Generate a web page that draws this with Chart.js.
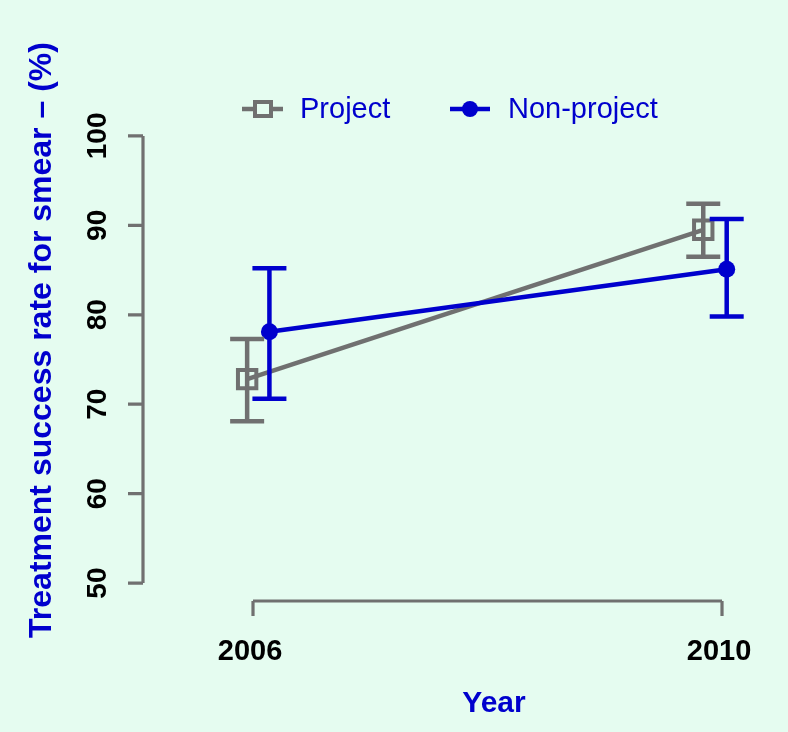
<!DOCTYPE html>
<html>
<head>
<meta charset="utf-8">
<script src="https://cdn.jsdelivr.net/npm/chart.js@4.4.1/dist/chart.umd.min.js"></script>
<style>
  html, body { margin: 0; padding: 0; background: #e5fcf0; }
  #wrap { width: 788px; height: 732px; position: relative; }
</style>
</head>
<body>
<div id="wrap"><canvas id="chart"></canvas></div>
<script>
// data
const years = [2006, 2010];
const yTicks = [50, 60, 70, 80, 90, 100];

// points are drawn slightly dodged around each year
const projectX = [2005.95, 2009.84];
const projectY = [72.8, 89.5];
const projectLo = [68.1, 86.5];
const projectHi = [77.3, 92.4];

const nonProjectX = [2006.14, 2010.04];
const nonProjectY = [78.1, 85.1];
const nonProjectLo = [70.6, 79.8];
const nonProjectHi = [85.2, 90.7];

const GRAY = '#707070';
const BLUE = '#0000cd';
const BG = '#e5fcf0';

const toPoints = (xs, ys) => xs.map((x, i) => ({ x: x, y: ys[i] }));

// error bars, axes (R style, detached) and legend
const rStyle = {
  id: 'rStyle',
  afterDatasetsDraw(chart) {
    const ctx = chart.ctx;
    const xs = chart.scales.x;
    const ys = chart.scales.y;
    const area = chart.chartArea;

    // error bars
    const bars = [
      { x: projectX, lo: projectLo, hi: projectHi, color: GRAY },
      { x: nonProjectX, lo: nonProjectLo, hi: nonProjectHi, color: BLUE },
    ];
    ctx.save();
    ctx.lineWidth = 4.5;
    ctx.lineCap = 'butt';
    bars.forEach(b => {
      ctx.strokeStyle = b.color;
      b.x.forEach((xv, i) => {
        const px = xs.getPixelForValue(xv);
        const top = ys.getPixelForValue(b.hi[i]);
        const bot = ys.getPixelForValue(b.lo[i]);
        ctx.beginPath();
        ctx.moveTo(px, top); ctx.lineTo(px, bot);
        ctx.moveTo(px - 17, top); ctx.lineTo(px + 17, top);
        ctx.moveTo(px - 17, bot); ctx.lineTo(px + 17, bot);
        ctx.stroke();
      });
    });

    // y axis
    ctx.strokeStyle = GRAY;
    ctx.lineWidth = 3.2;
    const yTop = ys.getPixelForValue(yTicks[yTicks.length - 1]);
    const yBot = ys.getPixelForValue(yTicks[0]);
    ctx.beginPath();
    ctx.moveTo(area.left, yTop); ctx.lineTo(area.left, yBot);
    yTicks.forEach(t => {
      const py = ys.getPixelForValue(t);
      ctx.moveTo(area.left, py); ctx.lineTo(area.left - 15, py);
    });
    ctx.stroke();

    ctx.fillStyle = '#000';
    ctx.font = 'bold 28px "Liberation Sans", Arial, sans-serif';
    ctx.textAlign = 'center';
    ctx.textBaseline = 'middle';
    yTicks.forEach(t => {
      const py = ys.getPixelForValue(t);
      ctx.save();
      ctx.translate(97, py);
      ctx.rotate(-Math.PI / 2);
      ctx.fillText(String(t), 0, 1);
      ctx.restore();
    });

    // x axis
    const xL = xs.getPixelForValue(years[0]);
    const xR = xs.getPixelForValue(years[years.length - 1]);
    ctx.beginPath();
    ctx.moveTo(xL, area.bottom); ctx.lineTo(xR, area.bottom);
    years.forEach(yv => {
      const px = xs.getPixelForValue(yv);
      ctx.moveTo(px, area.bottom); ctx.lineTo(px, area.bottom + 15);
    });
    ctx.stroke();

    ctx.font = 'bold 29px "Liberation Sans", Arial, sans-serif';
    years.forEach(yv => {
      ctx.fillText(String(yv), xs.getPixelForValue(yv) - 3, 652);
    });

    // axis titles
    ctx.fillStyle = BLUE;
    ctx.font = 'bold 30px "Liberation Sans", Arial, sans-serif';
    ctx.fillText('Year', 494, 704);
    ctx.save();
    ctx.translate(42, 340);
    ctx.rotate(-Math.PI / 2);
    ctx.font = 'bold 32px "Liberation Sans", Arial, sans-serif';
    ctx.fillText('Treatment success rate for smear \u2013 (%)', 0, 0);
    ctx.restore();

    // legend
    const ly = 109;
    ctx.lineWidth = 4.5;
    ctx.strokeStyle = GRAY;
    ctx.beginPath(); ctx.moveTo(242, ly); ctx.lineTo(283, ly); ctx.stroke();
    ctx.lineWidth = 4;
    ctx.fillStyle = BG;
    ctx.fillRect(255, ly - 7, 16, 14);
    ctx.strokeRect(255, ly - 7, 16, 14);
    ctx.strokeStyle = BLUE;
    ctx.lineWidth = 4.5;
    ctx.beginPath(); ctx.moveTo(450, ly); ctx.lineTo(490, ly); ctx.stroke();
    ctx.fillStyle = BLUE;
    ctx.beginPath(); ctx.arc(470, ly, 8, 0, Math.PI * 2); ctx.fill();

    ctx.font = '29px "Liberation Sans", Arial, sans-serif';
    ctx.textAlign = 'left';
    ctx.fillText('Project', 300, ly + 1);
    ctx.fillText('Non-project', 508, ly + 1);
    ctx.restore();
  }
};

new Chart(document.getElementById('chart'), {
  type: 'line',
  data: {
    datasets: [
      {
        label: 'Non-project',
        data: toPoints(nonProjectX, nonProjectY),
        borderColor: BLUE,
        backgroundColor: BLUE,
        borderWidth: 4.5,
        pointStyle: 'circle',
        pointRadius: 8.5,
        pointBorderWidth: 0,
        order: 0,
      },
      {
        label: 'Project',
        data: toPoints(projectX, projectY),
        borderColor: GRAY,
        backgroundColor: 'rgba(0,0,0,0)',
        borderWidth: 4.5,
        pointStyle: 'rect',
        pointRadius: 13,
        pointBorderWidth: 4,
        order: 1,
      },
    ],
  },
  options: {
    responsive: true,
    maintainAspectRatio: false,
    animation: false,
    layout: { padding: { left: 143, top: 118, bottom: 131, right: 28 } },
    scales: {
      x: { type: 'linear', min: 2005.0618, max: 2010.324, display: false },
      y: { type: 'linear', min: 48, max: 102, display: false },
    },
    plugins: {
      legend: { display: false },
      tooltip: { enabled: false },
    },
  },
  plugins: [rStyle],
});
</script>
</body>
</html>
